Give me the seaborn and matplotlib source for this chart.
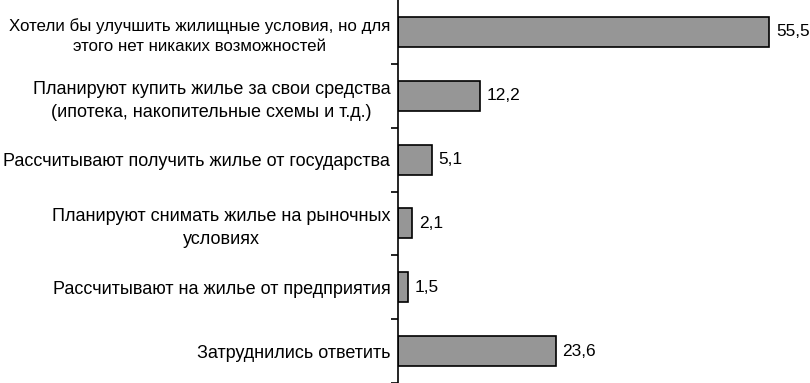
import matplotlib
matplotlib.use("Agg")
import matplotlib.pyplot as plt
import seaborn as sns
import pandas as pd
import numpy as np

categories = [
    "Хотели бы улучшить жилищные условия, но для\nэтого нет никаких возможностей",
    "Планируют купить жилье за свои средства\n(ипотека, накопительные схемы и т.д.)",
    "Рассчитывают получить жилье от государства",
    "Планируют снимать жилье на рыночных\nусловиях",
    "Рассчитывают на жилье от предприятия",
    "Затруднились ответить",
]
values = [55.5, 12.2, 5.1, 2.1, 1.5, 23.6]
value_labels = ["55,5", "12,2", "5,1", "2,1", "1,5", "23,6"]

sns.set_theme(style="white")
plt.rcParams['font.family'] = ['Liberation Sans', 'DejaVu Sans']

df = pd.DataFrame({"cat": categories, "val": values})

fig = plt.figure(figsize=(8.1, 3.83), dpi=100)
ax = fig.add_axes([398 / 810, 0.0, (810 - 398) / 810, 1.0])

sns.barplot(data=df, x="val", y="cat", orient="h", color="#969696",
            saturation=1, edgecolor="black", linewidth=1.2, width=0.47, ax=ax)

ax.set_xlim(0, 61.6)
ax.set_ylim(5.5, -0.5)
ax.set_xlabel("")
ax.set_ylabel("")
for s in ["top", "right", "bottom"]:
    ax.spines[s].set_visible(False)
ax.spines["left"].set_color("black")
ax.spines["left"].set_linewidth(1.2)
ax.set_xticks([])

ax.set_yticks(range(len(categories)))
ax.set_yticklabels(categories, fontsize=13, ha="right", multialignment="center",
                   linespacing=1.45, color="black")
ax.get_yticklabels()[0].set_fontsize(12.2)
ax.tick_params(axis="y", which="major", length=0, pad=5.5)
ax.set_yticks(np.arange(0.5, len(categories), 1.0), minor=True)
ax.tick_params(axis="y", which="minor", length=5, width=1.2, color="black", left=True)

for i, (v, lab) in enumerate(zip(values, value_labels)):
    ax.annotate(lab, xy=(v, i), xytext=(4.8, 0), textcoords="offset points",
                ha="left", va="center", fontsize=12.4, color="black")

fig.savefig("out.png", dpi=100)
